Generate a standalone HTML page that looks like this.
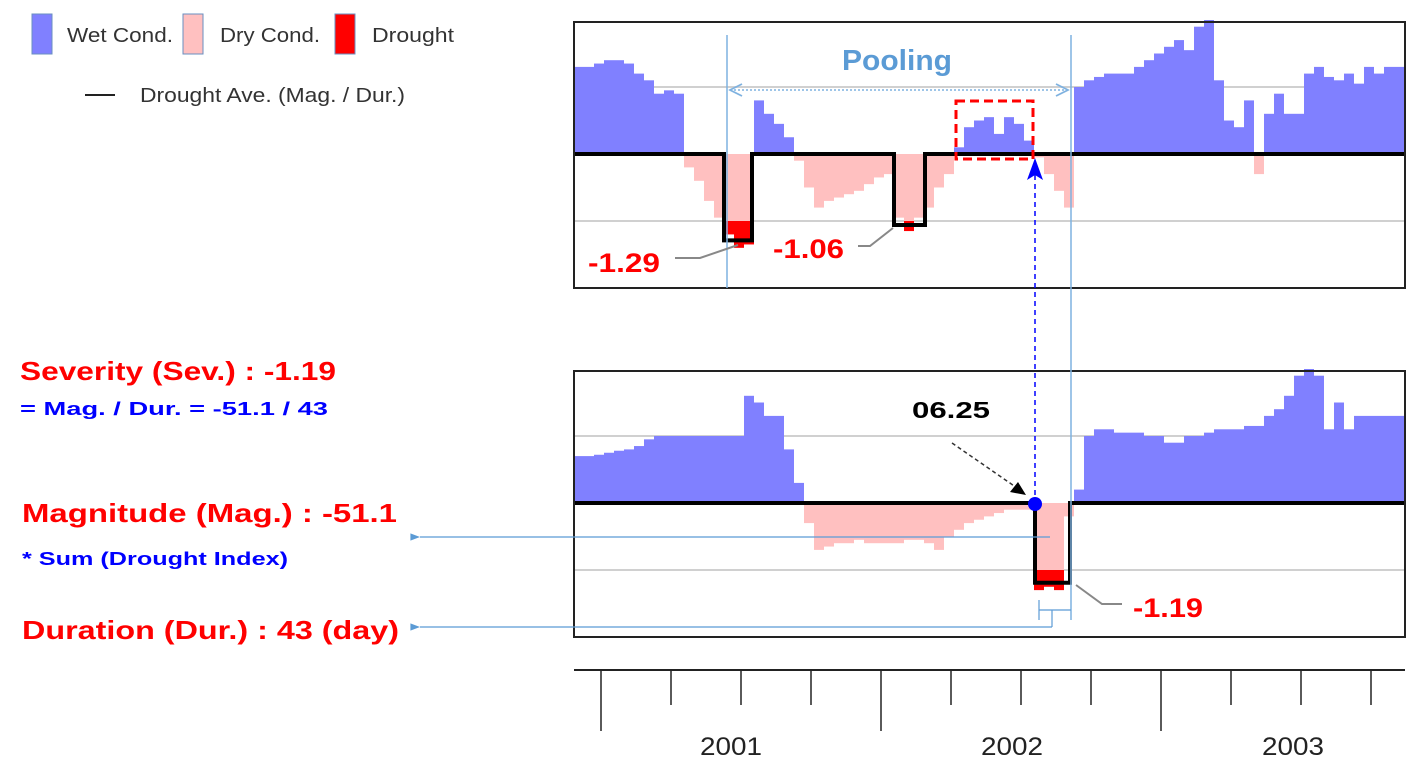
<!DOCTYPE html>
<html><head><meta charset="utf-8"><style>
body{margin:0;background:#fff;width:1427px;height:771px;overflow:hidden}
svg{font-family:"Liberation Sans",sans-serif}
</style></head><body>
<svg id="chart" width="1427" height="771" viewBox="0 0 1427 771">
<defs>
<marker id="ahL" markerWidth="10" markerHeight="10" refX="1" refY="5" orient="auto"><path d="M9,1 L1,5 L9,9" fill="none" stroke="#7fb2e0" stroke-width="1.2"/></marker>
<marker id="ahR" markerWidth="10" markerHeight="10" refX="9" refY="5" orient="auto"><path d="M1,1 L9,5 L1,9" fill="none" stroke="#7fb2e0" stroke-width="1.2"/></marker>
<marker id="ahS" markerWidth="10" markerHeight="10" refX="1" refY="5" orient="auto"><path d="M9,2 L1,5 L9,8 Z" fill="#5b9bd5"/></marker>
</defs>
<g id="plots"></g>
<g font-size="20" fill="#333">
<rect x="32" y="14" width="20" height="40" fill="#8080ff" stroke="#6a8fc0"/>
<text x="67" y="42" textLength="106" lengthAdjust="spacingAndGlyphs">Wet Cond.</text>
<rect x="183" y="14" width="20" height="40" fill="#ffc0c0" stroke="#6a8fc0"/>
<text x="220" y="42" textLength="100" lengthAdjust="spacingAndGlyphs">Dry Cond.</text>
<rect x="335" y="14" width="20" height="40" fill="#ff0000" stroke="#6a8fc0"/>
<text x="372" y="42" textLength="82" lengthAdjust="spacingAndGlyphs">Drought</text>
<line x1="85" y1="95" x2="115" y2="95" stroke="#222" stroke-width="2"/>
<text x="140" y="102" textLength="265" lengthAdjust="spacingAndGlyphs">Drought Ave. (Mag. / Dur.)</text>
</g>
<g font-weight="bold">
<text x="20" y="380" font-size="26" fill="#ff0000" textLength="316" lengthAdjust="spacingAndGlyphs">Severity (Sev.) : -1.19</text>
<text x="20" y="415" font-size="18" fill="#0000ff" textLength="308" lengthAdjust="spacingAndGlyphs">= Mag. / Dur. = -51.1 / 43</text>
<text x="22" y="522" font-size="26" fill="#ff0000" textLength="375" lengthAdjust="spacingAndGlyphs">Magnitude (Mag.) : -51.1</text>
<text x="22" y="565" font-size="18" fill="#0000ff" textLength="266" lengthAdjust="spacingAndGlyphs">* Sum (Drought Index)</text>
<text x="22" y="639" font-size="26" fill="#ff0000" textLength="377" lengthAdjust="spacingAndGlyphs">Duration (Dur.) : 43 (day)</text>
</g>
</svg>
<script>
const topValues=[1.3,1.3,1.35,1.4,1.4,1.35,1.2,1.1,0.9,0.95,0.9,-0.2,-0.4,-0.7,-0.95,-1.2,-1.4,-1.35,0.8,0.6,0.45,0.25,-0.1,-0.5,-0.8,-0.7,-0.65,-0.6,-0.55,-0.45,-0.35,-0.3,-0.95,-1.15,-0.95,-0.8,-0.5,-0.3,0.1,0.4,0.5,0.55,0.3,0.55,0.45,0.2,-0.05,-0.3,-0.55,-0.8,1.0,1.1,1.15,1.2,1.2,1.2,1.3,1.4,1.5,1.6,1.7,1.55,1.9,2.0,1.1,0.5,0.4,0.8,-0.3,0.6,0.9,0.6,0.6,1.2,1.3,1.15,1.1,1.2,1.05,1.3,1.2,1.3,1.3,1.3];
const bottomValues=[0.7,0.7,0.72,0.75,0.78,0.8,0.85,0.95,1.0,1.0,1.0,1.0,1.0,1.0,1.0,1.0,1.0,1.6,1.5,1.3,1.3,0.8,0.3,-0.3,-0.7,-0.65,-0.6,-0.6,-0.55,-0.6,-0.6,-0.6,-0.6,-0.55,-0.55,-0.6,-0.7,-0.5,-0.4,-0.3,-0.25,-0.2,-0.15,-0.1,-0.1,-0.1,-1.3,-1.25,-1.3,-0.2,0.2,1.0,1.1,1.1,1.05,1.05,1.05,1.0,1.0,0.9,0.9,1.0,1.0,1.05,1.1,1.1,1.1,1.15,1.15,1.3,1.4,1.6,1.9,2.0,1.9,1.1,1.5,1.1,1.3,1.3,1.3,1.3,1.3,1.3];
const topEventStart=[15.0,32.0];
const topEventEnd=[17.8,35.1];
const topEventMean=[-1.29,-1.06];
const bottomEventStart=[46.1];
const bottomEventEnd=[49.6];
const bottomEventMean=[-1.19];
const tickYears=['2001','2002','2003'];

const NS='http://www.w3.org/2000/svg';
const root=document.getElementById('plots');
function mk(tag,attrs,parent){const e=document.createElementNS(NS,tag);for(const k in attrs)e.setAttribute(k,attrs[k]);(parent||root).appendChild(e);return e;}
const X0=574,X1=1405,STEP=10;
function xs(i){return X0+i*STEP;}

function panel(name,top,vals,es,ee,em){
  const zero=top+132,unit=67;
  const ys=v=>zero-v*unit;
  const g=mk('g',{});
  
  
  [1,-1].forEach(v=>{const l=mk('line',{x1:X0,x2:X1,y1:ys(v),y2:ys(v),stroke:'#d0d0d0','stroke-width':2},g);
    
    });
  vals.forEach((v,i)=>{
    const x=xs(i),w=Math.min(STEP,X1-x);if(w<=0)return;
    let inEv=false;es.forEach((s,k)=>{if(i+0.5>=s&&i+0.5<=ee[k])inEv=true;});
    const r=mk('rect',{x:x,width:w,y:Math.min(ys(v),zero),height:Math.abs(v*unit),fill:v>=0?'#8080ff':'#ffc0c0'},g);
    
    
    if(inEv&&v<-1){const d=mk('rect',{x:x,width:w,y:ys(-1),height:(-1-v)*unit,fill:'#ff0000'},g);
      
      }
  });
  let p=`M${X0},${zero}`;
  es.forEach((s,k)=>{p+=` L${xs(s)},${zero} L${xs(s)},${ys(em[k])} L${xs(ee[k])},${ys(em[k])} L${xs(ee[k])},${zero}`;});
  p+=` L${X1},${zero}`;
  const pl=mk('path',{d:p,fill:'none',stroke:'#000','stroke-width':4},g);
  
  
  const b=mk('rect',{x:X0,y:top,width:X1-X0,height:266,fill:'none',stroke:'#222','stroke-width':2},g);
  
  
}
panel('top-panel',22,topValues,topEventStart,topEventEnd,topEventMean);
panel('bottom-panel',371,bottomValues,bottomEventStart,bottomEventEnd,bottomEventMean);

const ax=mk('g',{});


mk('line',{x1:X0,x2:X1,y1:670,y2:670,stroke:'#222','stroke-width':2},ax);
for(let k=0;k<12;k++){const x=601+k*70;if(x>X1)break;const major=k%4===0;
  const t=mk('line',{x1:x,x2:x,y1:670,y2:major?731:705,stroke:'#222','stroke-width':1.5},ax);
  
  }
tickYears.forEach((y,k)=>{const t=mk('text',{x:731+k*281,y:755,'font-size':25,'text-anchor':'middle',fill:'#222',textLength:62,lengthAdjust:'spacingAndGlyphs'},ax);t.textContent=y;
  
  });

const an=mk('g',{});


function L(a,n){const e=mk('line',a,an);return e;}
function T(x,y,s,txt,fill,n,extra){const e=mk('text',Object.assign({x:x,y:y,'font-size':s,'font-weight':'bold',fill:fill,lengthAdjust:'spacingAndGlyphs'},extra||{}),an);e.textContent=txt;return e;}
L({x1:727,x2:727,y1:35,y2:288,stroke:'#7fb2e0','stroke-width':1.5},'pooling-start-line');
L({x1:1071,x2:1071,y1:35,y2:620,stroke:'#7fb2e0','stroke-width':1.5},'pooling-end-line');
L({x1:730,x2:1068,y1:90,y2:90,stroke:'#7fb2e0','stroke-width':1.5,'stroke-dasharray':'2,2','marker-start':'url(#ahL)','marker-end':'url(#ahR)'},'pooling-arrow');
T(842,70,29,'Pooling','#5b9bd5','pooling-label',{textLength:110});
const rb=mk('rect',{x:956,y:101,width:77,height:58,fill:'none',stroke:'#ff0000','stroke-width':3,'stroke-dasharray':'9,5'},an);


L({x1:1035,x2:1035,y1:175,y2:500,stroke:'#0000ff','stroke-width':1.5,'stroke-dasharray':'5,4'},'link-dashed-line');
const ah=mk('path',{d:'M1035,158 L1027,180 L1035,175 L1043,180 Z',fill:'#0000ff'},an);


const dot=mk('circle',{cx:1035,cy:504,r:7,fill:'#0000ff'},an);


T(912,418,23,'06.25','#000','onset-date-label',{textLength:78});
L({x1:952,x2:1020,y1:443,y2:490,stroke:'#333','stroke-width':1.5,'stroke-dasharray':'4,3'},'onset-pointer');
const oh=mk('path',{d:'M1026,495 L1010,492 L1018,482 Z',fill:'#000'},an);


T(588,272,27,'-1.29','#ff0000','event1-severity-label',{textLength:72});
T(773,258,27,'-1.06','#ff0000','event2-severity-label',{textLength:71});
T(1133,617,27,'-1.19','#ff0000','event3-severity-label',{textLength:70});
function lead(d,n){const e=mk('path',{d:d,fill:'none',stroke:'#888','stroke-width':2},an);}
lead('M675,258 L700,258 L738,245','event1-leader');
lead('M858,246 L870,246 L893,228','event2-leader');
lead('M1122,604 L1102,604 L1076,585','event3-leader');
L({x1:1050,x2:420,y1:537,y2:537,stroke:'#5b9bd5','stroke-width':1.2,'marker-end':'url(#ahS)'},'magnitude-arrow');
L({x1:1052,x2:420,y1:627,y2:627,stroke:'#5b9bd5','stroke-width':1.2,'marker-end':'url(#ahS)'},'duration-arrow');
L({x1:1052,x2:1052,y1:610,y2:627,stroke:'#5b9bd5','stroke-width':1.2},'duration-arrow-stem');
L({x1:1039,x2:1071,y1:610,y2:610,stroke:'#5b9bd5','stroke-width':1.2},'duration-bracket');
L({x1:1039,x2:1039,y1:600,y2:620,stroke:'#5b9bd5','stroke-width':1.2},'duration-bracket-left');
</script>
</body></html>
